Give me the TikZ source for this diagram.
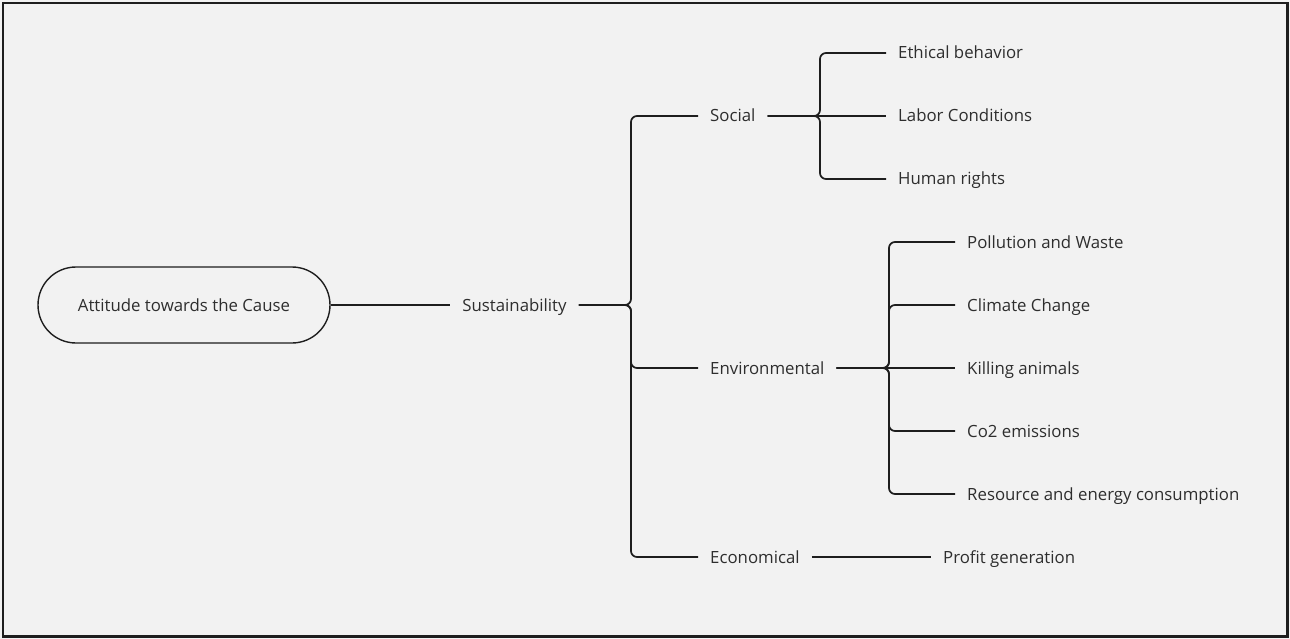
\documentclass[tikz,border=0pt]{standalone}
\usepackage{fontspec}
\setmainfont{Open Sans}
\usetikzlibrary{positioning}
\definecolor{bg}{HTML}{F2F2F2}
\definecolor{ink}{HTML}{1E1E1E}
\definecolor{txt}{HTML}{2E2E2E}
\begin{document}
\begin{tikzpicture}[x=1pt,y=-1pt,
  lbl/.style={font=\fontsize{16.8}{20}\selectfont, text=txt, inner xsep=12pt, inner ysep=0pt, text height=12pt, text depth=0pt},
  lblw/.style={lbl, anchor=west},
  conn/.style={draw=ink, line width=1.7pt, rounded corners=6pt},
  pill/.style={draw=ink, line width=1.4pt, rounded corners=38pt, minimum width=292pt, minimum height=76pt, font=\fontsize{16.8}{20}\selectfont, text=txt, text height=12pt, text depth=0pt}]
\fill[bg] (0,0) rectangle (1290,639);
\useasboundingbox (0,0) rectangle (1290,639);
\draw[line width=2.6pt, draw=ink] (3,3) rectangle (1287.5,636.5);

\node[pill] (att) at (184,305) {Attitude towards the Cause};
\node[lbl] (sus) at (514.5,305) {Sustainability};

\node[lblw] (soc) at (698,116) {Social};
\node[lblw] (env) at (698,368) {Environmental};
\node[lblw] (eco) at (698,557) {Economical};

\node[lblw] (eth) at (886,53) {Ethical behavior};
\node[lblw] (lab) at (886,116) {Labor Conditions};
\node[lblw] (hum) at (886,179) {Human rights};

\node[lblw] (pol) at (955,242) {Pollution and Waste};
\node[lblw] (cli) at (955,305) {Climate Change};
\node[lblw] (kil) at (955,368) {Killing animals};
\node[lblw] (co2) at (955,431) {Co2 emissions};
\node[lblw] (res) at (955,494) {Resource and energy consumption};

\node[lblw] (pro) at (931,557) {Profit generation};

\coordinate (j1) at (631,305);
\coordinate (j2) at (820,116);
\coordinate (j3) at (889,368);

\draw[conn] (att.east) -- (sus.west);
\draw[conn] (sus.east) -- (j1) |- (soc.west);
\draw[conn] (sus.east) -- (j1) |- (env.west);
\draw[conn] (sus.east) -- (j1) |- (eco.west);

\draw[conn] (soc.east) -- (j2) |- (eth.west);
\draw[conn] (soc.east) -- (lab.west);
\draw[conn] (soc.east) -- (j2) |- (hum.west);

\draw[conn] (env.east) -- (j3) |- (pol.west);
\draw[conn] (env.east) -- (j3) |- (cli.west);
\draw[conn] (env.east) -- (kil.west);
\draw[conn] (env.east) -- (j3) |- (co2.west);
\draw[conn] (env.east) -- (j3) |- (res.west);

\draw[conn] (eco.east) -- (pro.west);
\end{tikzpicture}
\end{document}
